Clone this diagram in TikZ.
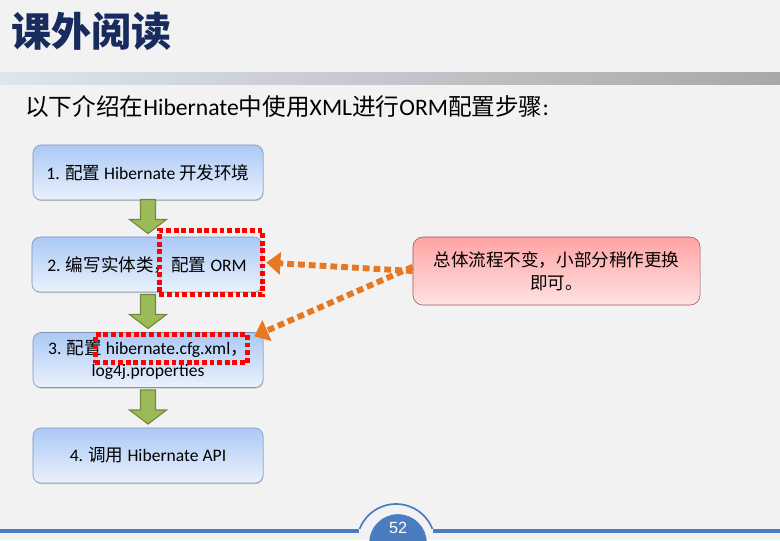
\documentclass[tikz,border=0pt]{standalone}
\usepackage{fontspec}
\setmainfont{Carlito}
\newfontfamily\cjk{Noto Sans CJK SC}
\newfontfamily\numfont{Liberation Sans}
\usetikzlibrary{arrows.meta}
\usetikzlibrary{shadows}
\definecolor{slidebg}{HTML}{F2F2F2}
\definecolor{titlecol}{HTML}{172B5E}
\definecolor{barleft}{HTML}{DFE4EE}
\definecolor{barright}{HTML}{A8A8A8}
\definecolor{steptop}{HTML}{ABC9F5}
\definecolor{stepbot}{HTML}{EAF1FC}
\definecolor{stepline}{HTML}{7F93B5}
\definecolor{downfill}{HTML}{9BBB59}
\definecolor{downline}{HTML}{71893F}
\definecolor{notetop}{HTML}{FFA3A3}
\definecolor{notebot}{HTML}{FFE2E2}
\definecolor{noteline}{HTML}{9C5A5A}
\definecolor{hintcol}{HTML}{E87722}
\definecolor{footcol}{HTML}{4A7CC0}
\tikzset{
    Step/.style = {rounded corners=0.2cm, draw=stepline, top color=steptop, bottom color=stepbot,
        minimum width=5.75cm, minimum height=1.375cm, align=center, inner sep=0pt,
        font=\fontsize{12.5}{15.5}\selectfont,
        drop shadow={opacity=0.35, shadow xshift=0.4pt, shadow yshift=-0.8pt}}
}
\tikzset{
    Down/.style = {draw=downline, fill=downfill, line width=0.8pt, line join=miter}
}
\tikzset{
    Hint/.style = {draw=hintcol, line width=4.2pt, dash pattern=on 0.17cm off 0.1cm,
        -{Triangle[length=0.35cm,width=0.55cm]}}
}

\begin{document}
\begin{tikzpicture}[x=0.025cm, y=-0.025cm]
\tikzset{
    RedFrame/.style = {draw=red, line width=3.5pt, dash pattern=on 0.12cm off 0.07cm, inner sep=0pt},
    Note/.style = {rounded corners=0.25cm, draw=noteline, top color=notetop, bottom color=notebot,
        minimum width=7.175cm, minimum height=1.7cm, align=center,
        font=\cjk\fontsize{12.5}{16}\selectfont}
}
\useasboundingbox (0,0) rectangle (780,540);
\fill[slidebg] (0,0) rectangle (780,540);
% heading
\node[anchor=west, inner sep=0pt, text=titlecol, font=\cjk\bfseries\fontsize{28.5}{30}\selectfont] (title) at (11,31) {课外阅读};
\fill[left color=barleft, right color=barright] (0,72) rectangle (780,84);
\node[anchor=west, inner sep=0pt, font=\fontsize{16.8}{19}\selectfont] (intro) at (25,107)
    {{\cjk 以下介绍在}Hibernate{\cjk 中使用}XML{\cjk 进行}ORM{\cjk 配置步骤}:};
% steps
\node[Step] at (148,172.5) (s1) {1. {\cjk 配置} Hibernate {\cjk 开发环境}};
\node[Step] at (147,264.5) (s2) {2. {\cjk 编写实体类，配置} ORM};
\node[Step] at (148,360) (s3) {3. {\cjk 配置} hibernate.cfg.xml{\cjk ，}\\log4j.properties};
\node[Step] at (148,455.5) (s4) {4. {\cjk 调用} Hibernate API};
\coordinate (d1) at (148,216.5);
\coordinate (d2) at (148,311.5);
\coordinate (d3) at (148,407);
\foreach \d in {d1,d2,d3}
    \draw[Down] (\d) ++(-7.5,-17) -- ++(15,0) -- ++(0,20) -- ++(11,0) -- ++(-18.5,14)
        -- ++(-18.5,-14) -- ++(11,0) -- cycle;
% highlights
\node[RedFrame, minimum width=2.575cm, minimum height=1.6cm] at (211,262.5) (f1) {};
\node[RedFrame, minimum width=3.8cm, minimum height=0.7cm] at (171.5,348.5) (f2) {};
\node[Note] at (556.5,271) (note) {总体流程不变，小部分稍作更换\\即可。};
\path (note.west) edge [Hint, shorten >=1pt] (f1.east);
\path ([yshift=3pt]note.west) edge [Hint] ([xshift=3pt,yshift=-3pt]f2.north east);
% footer
\draw[footcol, line width=2.4pt] (0,531) -- (780,531);
\begin{scope}
\clip (0,0) rectangle (780,530);
\draw[footcol, line width=1.2pt] (396,543) circle (0.975cm);
\end{scope}
\fill[slidebg] (359,529) rectangle (433,540);
\fill[footcol] (398,543) circle (0.72cm);
\node[text=white, font=\numfont\fontsize{11.5}{12}\selectfont] (page) at (398,528) {52};
\end{tikzpicture}
\end{document}
